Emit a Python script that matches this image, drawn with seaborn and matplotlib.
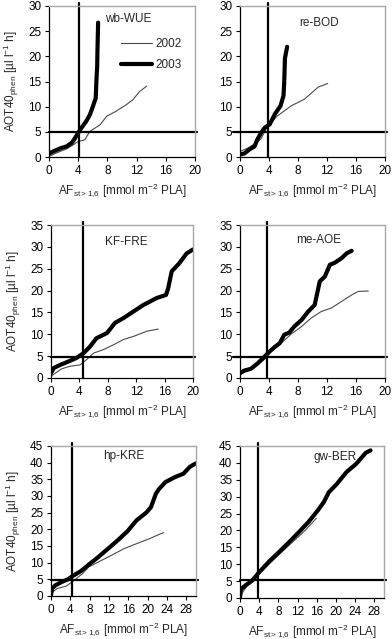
import numpy as np
import pandas as pd
import matplotlib
matplotlib.use("Agg")
import matplotlib.pyplot as plt
import seaborn as sns

sns.set_style("ticks")
plt.rcParams["font.family"] = ["Liberation Sans", "DejaVu Sans"]
plt.rcParams["mathtext.fontset"] = "custom"
plt.rcParams["mathtext.rm"] = "Liberation Sans"
plt.rcParams["mathtext.it"] = "Liberation Sans:italic"
plt.rcParams["mathtext.bf"] = "Liberation Sans:bold"

# ---------------- data ----------------
sites = ["wb-WUE", "re-BOD", "KF-FRE", "me-AOE", "hp-KRE", "gw-BER"]
years = ["2002", "2003"]

wb_2003_x = [0, 0.55, 1.7, 2.4, 3.1, 3.5, 4.0, 4.4, 5.1, 5.6, 6.0, 6.4, 6.5, 6.6, 6.64, 6.73]
wb_2003_y = [0.66, 1.1, 1.8, 2.1, 2.8, 3.6, 4.8, 5.7, 7.1, 8.4, 10.0, 11.7, 15.3, 18.0, 21.3, 26.7]
wb_2002_x = [0, 1.0, 2.4, 3.3, 4.0, 4.9, 5.6, 7.0, 7.9, 9.2, 10.6, 11.5, 12.4, 13.4]
wb_2002_y = [0.1, 0.8, 1.6, 2.4, 3.1, 3.4, 5.1, 6.4, 8.1, 9.1, 10.4, 11.4, 13.0, 14.1]

re_2003_x = [0, 0.6, 1.3, 2.0, 2.4, 2.9, 3.4, 4.1, 4.8, 5.6, 6.0, 6.1, 6.2, 6.5]
re_2003_y = [0.5, 0.7, 1.5, 2.1, 3.5, 4.8, 5.8, 6.5, 8.5, 10.2, 12.2, 14.9, 19.6, 21.9]
re_2002_x = [0, 1.1, 2.2, 2.9, 3.8, 5.2, 7.1, 8.9, 10.8, 12.1]
re_2002_y = [1.1, 1.8, 2.8, 3.6, 6.2, 8.2, 10.2, 11.5, 13.9, 14.6]

kf_2003_x = [0, 0.4, 1.3, 2.5, 3.6, 4.6, 5.5, 6.4, 7.9, 9.0, 10.2, 11.6, 13.0, 14.9, 16.2, 16.5, 17.0, 18.1, 19.1, 20.0]
kf_2003_y = [1.1, 2.3, 3.0, 3.8, 4.6, 5.7, 7.2, 9.1, 10.3, 12.6, 13.7, 15.2, 16.7, 18.3, 19.0, 20.5, 24.4, 26.3, 28.5, 29.4]
kf_2002_x = [0, 0.6, 1.5, 2.7, 4.1, 5.0, 6.0, 7.4, 8.8, 10.2, 11.6, 13.5, 15.1]
kf_2002_y = [0.4, 1.1, 2.1, 2.7, 3.0, 4.2, 5.7, 6.5, 7.6, 8.8, 9.5, 10.7, 11.2]

me_2003_x = [0, 0.6, 1.5, 2.4, 3.4, 4.1, 4.8, 5.5, 6.1, 6.8, 7.5, 8.5, 9.4, 10.3, 11.0, 11.7, 12.4, 13.1, 14.0, 14.7, 15.4]
me_2003_y = [1.1, 1.7, 2.1, 3.3, 4.9, 6.1, 7.1, 8.0, 9.9, 10.4, 11.8, 13.3, 15.2, 16.7, 22.1, 23.2, 25.9, 26.4, 27.4, 28.5, 29.1]
me_2002_x = [0, 1.1, 2.4, 3.4, 4.3, 5.7, 7.1, 8.5, 9.8, 11.2, 12.6, 14.0, 15.4, 16.3, 17.7]
me_2002_y = [0.8, 1.75, 3.0, 4.3, 6.1, 8.0, 10.1, 11.8, 13.7, 15.2, 16.0, 17.5, 19.0, 19.8, 19.9]

hp_2003_x = [0, 0.2, 0.9, 2.2, 3.5, 4.5, 6.2, 7.8, 9.8, 11.8, 13.8, 15.8, 17.7, 19.7, 20.7, 21.7, 22.4, 23.7, 25.7, 27.4, 28.7, 29.0, 30.0]
hp_2003_y = [0.2, 2.2, 3.2, 4.2, 5.0, 6.0, 7.5, 9.4, 11.7, 14.2, 16.7, 19.4, 22.7, 25.0, 26.7, 30.7, 32.2, 34.2, 35.7, 36.7, 38.7, 39.0, 39.8]
hp_2002_x = [0, 1.2, 3.2, 4.8, 6.5, 7.8, 9.8, 12.5, 15.1, 17.7, 20.4, 22.4, 23.3]
hp_2002_y = [0.7, 2.2, 3.0, 4.7, 6.7, 8.7, 10.2, 12.2, 14.2, 15.7, 17.2, 18.5, 19.0]

gw_2003_x = [0, 0.2, 1.2, 2.5, 3.9, 6.2, 8.2, 10.2, 12.2, 14.2, 16.2, 17.5, 18.5, 20.2, 22.2, 24.2, 26.2, 27.2]
gw_2003_y = [0.1, 2.6, 3.8, 5.1, 7.5, 11.0, 13.7, 16.5, 19.4, 22.4, 25.9, 28.5, 31.3, 33.8, 37.3, 39.7, 43.0, 43.7]
gw_2002_x = [0, 1.5, 4.2, 7.5, 10.9, 13.5, 15.9]
gw_2002_y = [0.6, 3.6, 7.5, 12.0, 16.5, 19.9, 23.6]

series_2002 = [(wb_2002_x, wb_2002_y), (re_2002_x, re_2002_y), (kf_2002_x, kf_2002_y),
               (me_2002_x, me_2002_y), (hp_2002_x, hp_2002_y), (gw_2002_x, gw_2002_y)]
series_2003 = [(wb_2003_x, wb_2003_y), (re_2003_x, re_2003_y), (kf_2003_x, kf_2003_y),
               (me_2003_x, me_2003_y), (hp_2003_x, hp_2003_y), (gw_2003_x, gw_2003_y)]

# threshold reference lines per panel
af_threshold = [4.1, 3.9, 4.45, 3.75, 4.3, 3.7]
aot_threshold = [5.0, 5.0, 4.9, 4.85, 4.9, 5.2]

x_max = [20, 20, 20, 20, 30, 30]
y_max = [30, 30, 35, 35, 45, 45]
x_ticks = [[0, 4, 8, 12, 16, 20]] * 4 + [[0, 4, 8, 12, 16, 20, 24, 28]] * 2
y_ticks = [[0, 5, 10, 15, 20, 25, 30]] * 2 + [[0, 5, 10, 15, 20, 25, 30, 35]] * 2 + \
          [[0, 5, 10, 15, 20, 25, 30, 35, 40, 45]] * 2

# ---------------- layout ----------------
W, H = 392, 639
boxes = [(49, 195, 6, 157), (240, 385, 6, 157),
         (51, 193, 225, 378), (240, 385, 225, 378),
         (51, 196, 446, 596), (240, 384, 446, 598)]
title_pos = [(0.54, 0.914), (0.547, 0.885), (0.533, 0.89),
             (0.54, 0.90), (0.503, 0.93), (0.66, 0.93)]
hline_xmin = [0.0, -0.05, 0.0, -0.05, 0.0, 0.0]

fig = plt.figure(figsize=(W / 100, H / 100), dpi=100)
FS = 8.5

for i in range(6):
    l, r, t, b = boxes[i]
    ax = fig.add_axes([l / W, 1 - b / H, (r - l) / W, (b - t) / H])
    x2, y2 = series_2002[i]
    x3, y3 = series_2003[i]
    df2 = pd.DataFrame({"AF": x2, "AOT": y2})
    df3 = pd.DataFrame({"AF": x3, "AOT": y3})
    sns.lineplot(data=df2, x="AF", y="AOT", sort=False, estimator=None, ax=ax,
                 color="#4a4a4a", linewidth=0.8, label=years[0] if i == 0 else None)
    sns.lineplot(data=df3, x="AF", y="AOT", sort=False, estimator=None, ax=ax,
                 color="black", linewidth=3.0, solid_capstyle="round",
                 solid_joinstyle="round", label=years[1] if i == 0 else None)
    ax.axvline(af_threshold[i], ymin=0, ymax=1.02, color="black", lw=1.6, clip_on=False)
    ax.axhline(aot_threshold[i], xmin=hline_xmin[i], xmax=1.015, color="black", lw=1.6, clip_on=False)

    ax.set_xlim(0, x_max[i])
    ax.set_ylim(0, y_max[i])
    ax.set_xticks(x_ticks[i])
    ax.set_yticks(y_ticks[i])
    ax.tick_params(axis="both", direction="out", length=3, width=0.8, pad=2.5,
                   labelsize=FS, colors="black")
    for s in ["left", "bottom"]:
        ax.spines[s].set_color("black")
        ax.spines[s].set_linewidth(0.9)
    for s in ["top", "right"]:
        ax.spines[s].set_visible(True)
        ax.spines[s].set_color("#a8a8a8")
        ax.spines[s].set_linewidth(1.0)

    ax.set_xlabel(r"AF$_{\mathrm{st>1{,}6}}$ [mmol m$^{-2}$ PLA]", fontsize=FS, labelpad=3)
    if i % 2 == 0:
        ax.set_ylabel(r"AOT40$_{\mathrm{phen}}$ [µl l$^{-1}$ h]", fontsize=FS, labelpad=5)
    else:
        ax.set_ylabel("")
    ax.text(title_pos[i][0], title_pos[i][1], sites[i], transform=ax.transAxes,
            ha="center", va="center", fontsize=FS)
    if i == 0:
        ax.legend(loc="upper left", bbox_to_anchor=(0.49, 0.785), frameon=False,
                  fontsize=FS, handlelength=2.7, handletextpad=0.25,
                  labelspacing=0.7, borderpad=0, borderaxespad=0)
    else:
        leg = ax.get_legend()
        if leg is not None:
            leg.remove()

fig.savefig("out.png", dpi=100)
